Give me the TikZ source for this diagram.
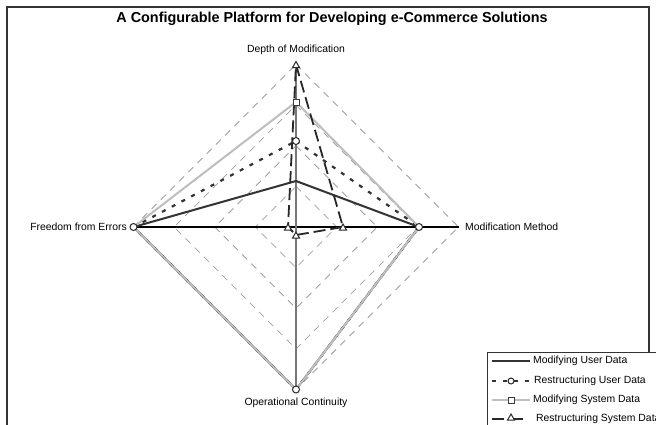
\documentclass[tikz,border=0pt]{standalone}
\usepackage{fontspec}
\setmainfont{Liberation Sans}
\usetikzlibrary{shapes.geometric}
\begin{document}
\begin{tikzpicture}[x=1pt,y=-1pt,
  gridline/.style={draw={rgb,255:red,160;green,160;blue,160},line width=0.8pt,dash pattern=on 7pt off 6pt},
  lbl/.style={font=\fontsize{10.4}{12}\selectfont,inner sep=0pt},
  sone/.style={draw={rgb,255:red,51;green,51;blue,51},line width=2pt,line join=round},
  stwo/.style={draw={rgb,255:red,51;green,51;blue,51},line width=2.2pt,dash pattern=on 4pt off 7pt},
  sthree/.style={draw={rgb,255:red,190;green,190;blue,190},line width=2pt,line join=round},
  sfour/.style={draw={rgb,255:red,40;green,40;blue,40},line width=1.8pt,dash pattern=on 12pt off 5pt},
  mcirc/.style={circle,draw={rgb,255:red,40;green,40;blue,40},fill=white,line width=1pt,minimum size=7pt,inner sep=0pt},
  msq/.style={rectangle,draw={rgb,255:red,60;green,60;blue,60},fill=white,line width=1pt,minimum size=6pt,inner sep=0pt},
  mtri/.style={regular polygon,regular polygon sides=3,draw={rgb,255:red,40;green,40;blue,40},fill=white,line width=1pt,minimum size=8pt,inner sep=0pt},
]
\useasboundingbox (0,0) rectangle (656,424);
\fill[white] (0,0) rectangle (656,424);
% frame
\draw[draw={rgb,255:red,51;green,51;blue,51},line width=1.5pt] (7,440) -- (7,7) -- (649,7) -- (649,440);
% title
\node[font=\fontsize{14.4}{16}\bfseries\selectfont,inner sep=0pt] (title) at (332,19) {A Configurable Platform for Developing e-Commerce Solutions};
% grid
\foreach \r in {40.6,81.25,121.9,162.5}{
  \draw[gridline] (296,227-\r) -- (296+\r,227) -- (296,227+\r) -- (296-\r,227) -- cycle;
}
% axes
\coordinate (C) at (296,227);
\coordinate (AD) at (296,64.5);
\coordinate (AM) at (458.5,227);
\coordinate (AO) at (296,389.5);
\coordinate (AF) at (133.5,227);
\draw[black,line width=1.2pt] (AF) -- (AM);
\draw[draw={rgb,255:red,120;green,120;blue,120},line width=2pt] (AD) -- (AO);
% labels
\node[lbl,anchor=south] (ld) at (296,55) {Depth of Modification};
\node[lbl,anchor=west] (lm) at (465,227) {Modification Method};
\node[lbl,anchor=north] (lo) at (296,398) {Operational Continuity};
\node[lbl,anchor=east] (lf) at (127,227) {Freedom from Errors};
% data points
\coordinate (D1) at (296,181);
\coordinate (D2) at (296,141);
\coordinate (D3) at (296,102);
\coordinate (M) at (419,227);
\coordinate (O) at (296,389.5);
\coordinate (F) at (133.5,227);
\coordinate (D4) at (296,64.5);
\coordinate (M4) at (343,227);
\coordinate (O4) at (296,235);
\coordinate (F4) at (288,227);
% series
\draw[sone] (D1) -- (M) -- (O) -- (F) -- cycle;
\draw[stwo] (D2) -- (M) -- (O) -- (F) -- cycle;
\draw[sthree] (D3) -- (M) -- (O) -- (F) -- cycle;
\draw[sfour] (D4) -- (M4) -- (O4) -- (F4) -- cycle;
% markers
\foreach \p in {D2,M,O,F} \node[mcirc] at (\p) {};
\foreach \p in {D3} \node[msq] at (\p) {};
\foreach \p in {D4,M4,O4,F4} \node[mtri,yshift=-1pt] at (\p) {};
% legend
\draw[draw={rgb,255:red,51;green,51;blue,51},line width=1pt,fill=white] (487,352) rectangle (680,440);
\coordinate (ka) at (492,361); \coordinate (kb) at (530,361);
\draw[sone,line width=1.6pt] (ka) -- (kb);
\node[lbl,anchor=west] (t1) at (533,361) {Modifying User Data};
\coordinate (kc) at (492,381); \coordinate (kd) at (530,381);
\draw[stwo,line width=2pt] (kc) -- (kd);
\node[mcirc,minimum size=6pt] at (511,381) {};
\node[lbl,anchor=west] (t2) at (534,381) {Restructuring User Data};
\coordinate (ke) at (492,400); \coordinate (kf) at (530,400);
\draw[sthree,line width=1.6pt] (ke) -- (kf);
\node[msq] at (511,400) {};
\node[lbl,anchor=west] (t3) at (533,400) {Modifying System Data};
\coordinate (kg) at (492,419); \coordinate (kh) at (530,419);
\draw[sfour,dash pattern=on 12pt off 7pt] (kg) -- (kh);
\node[mtri,minimum size=8pt] at (511,418) {};
\node[lbl,anchor=west] (t4) at (536,419) {Restructuring System Data};
\end{tikzpicture}
\end{document}
